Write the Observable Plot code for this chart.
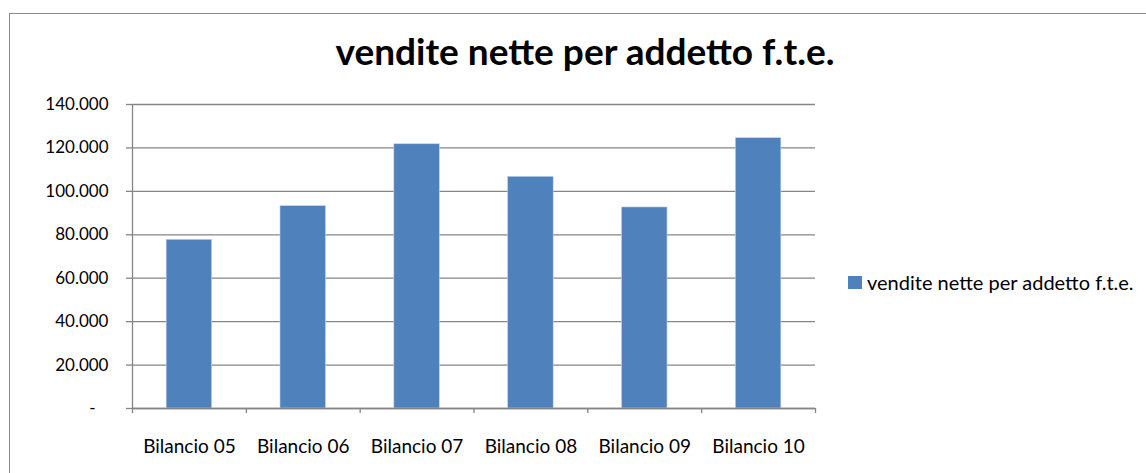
<!DOCTYPE html>
<html>
<head>
<meta charset="utf-8">
<script src="https://cdn.jsdelivr.net/npm/d3@7"></script>
<script src="https://cdn.jsdelivr.net/npm/@observablehq/plot@0.6"></script>
<style>
  html, body { margin: 0; padding: 0; background: #fff; overflow: hidden; }
  #wrap { position: relative; width: 1146px; height: 473px; overflow: hidden; font-family: Lato, "Open Sans", sans-serif; }
  #frame { position: absolute; left: 9px; top: 13px; width: 1160px; height: 500px; border: 1px solid #8a8a8a; box-sizing: border-box; }
  #title { position: absolute; left: 0; width: 1170px; top: 29px; text-align: center; font-weight: bold; font-size: 37px; line-height: 1.2; color: #000; }
  #legend { position: absolute; left: 848px; top: 270px; font-size: 20px; line-height: 24px; color: #000; display: flex; align-items: center; white-space: nowrap; }
  #legend .sw { width: 14px; height: 13px; background: #4F81BD; margin-right: 5px; }
  #chart { position: absolute; left: 0; top: 0; }
</style>
</head>
<body>
<div id="wrap">
  <div id="frame"></div>
  <div id="chart"></div>
  <div id="title"></div>
  <div id="legend"><div class="sw"></div><span id="legtext"></span></div>
</div>
<script>
const categories = ["Bilancio 05", "Bilancio 06", "Bilancio 07", "Bilancio 08", "Bilancio 09", "Bilancio 10"];
const values = [77700, 93200, 121700, 106700, 92600, 124500];
const seriesName = "vendite nette per addetto f.t.e.";
const titleText = "vendite nette per addetto f.t.e.";
const yTicks = [0, 20000, 40000, 60000, 80000, 100000, 120000, 140000];

document.getElementById("title").textContent = titleText;
document.getElementById("legtext").textContent = seriesName;

const data = categories.map((c, i) => ({cat: c, i, value: values[i]}));
const boundaries = d3.range(categories.length + 1);
const centers = categories.map((c, i) => i + 0.5);
const fmt = d => d === 0 ? "-\u00a0\u00a0\u00a0" : d3.format(",")(d).replace(/,/g, ".");
const grey = "#868686";

const chart = Plot.plot({
  width: 1146,
  height: 473,
  marginLeft: 132,
  marginRight: 331,
  marginTop: 104,
  marginBottom: 65,
  style: {fontFamily: "Lato, 'Open Sans', sans-serif", fontSize: "17px", color: "#000", background: "transparent"},
  x: {type: "linear", domain: [0, categories.length]},
  y: {domain: [0, 140000]},
  marks: [
    Plot.gridY(yTicks, {stroke: grey, strokeOpacity: 1, strokeWidth: 1.3}),
    Plot.axisY(yTicks, {tickSize: 6, tickPadding: 18, stroke: grey, strokeOpacity: 1, strokeWidth: 1.3, tickFormat: fmt, label: null, fill: "#000", fontSize: 17}),
    Plot.rectY(data, {x1: d => d.i + 0.3, x2: d => d.i + 0.7, y: "value", fill: "#4F81BD", stroke: "#c5d6ec", strokeWidth: 0.6}),
    Plot.ruleY([0], {stroke: grey, strokeWidth: 1.3}),
    Plot.ruleX([0], {stroke: grey, strokeWidth: 1.3}),
    Plot.axisX(boundaries, {tickSize: 5, tickFormat: () => "", stroke: grey, strokeOpacity: 1, strokeWidth: 1.3, label: null}),
    Plot.axisX(centers, {tickSize: 0, tickPadding: 31, tickFormat: d => categories[Math.round(d - 0.5)], label: null, fill: "#000", fontSize: 19})
  ]
});
document.getElementById("chart").appendChild(chart);
</script>
</body>
</html>
